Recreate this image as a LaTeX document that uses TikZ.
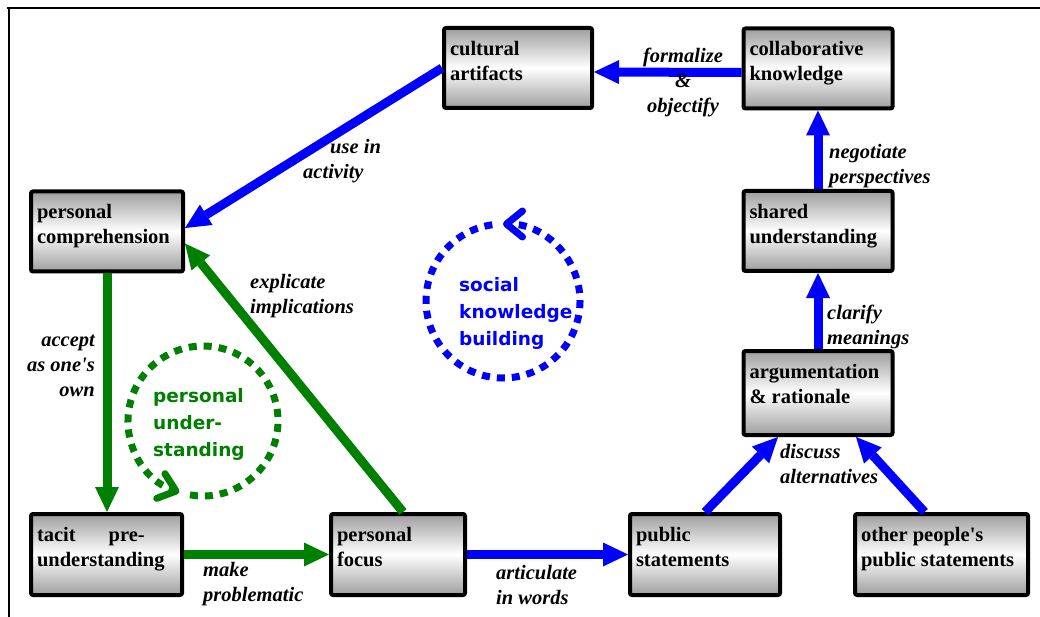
\documentclass[tikz,border=0pt]{standalone}
\usepackage{fontspec}
\setmainfont{Liberation Serif}
\newfontfamily\dvs{DejaVu Sans}
\usetikzlibrary{arrows.meta}
\definecolor{ablue}{RGB}{0,0,255}
\definecolor{agreen}{RGB}{0,128,0}
\newcommand\st{\rule[-7.5pt]{0pt}{25pt}}
\newcommand\bst{\rule[-7.5pt]{0pt}{26.5pt}}
\newcommand\sst{\rule[-8.1pt]{0pt}{27pt}}
\newcommand\bxt[3]{\parbox[c][#2][t]{#1}{\raggedright\bst #3}}
\tikzset{
  bx/.style={draw=black, line width=4pt, rounded corners=2pt,
    top color=black!38, bottom color=black!38, middle color=white,
    inner xsep=6pt, inner ysep=8.5pt, outer sep=2pt,
    font=\fontsize{20.5}{25}\selectfont\bfseries},
  lbl/.style={font=\fontsize{20.5}{25}\selectfont\bfseries\itshape, inner sep=0pt, anchor=north west, align=left},
  ctext/.style={font=\dvs\fontsize{18.5}{27}\selectfont\bfseries, inner sep=0pt, anchor=north west, align=left},
  barrow/.style={draw=ablue, line width=9pt, -{Triangle[length=25pt,width=24pt,line width=0pt]}},
  garrow/.style={draw=agreen, line width=9pt, -{Triangle[length=25pt,width=24pt,line width=0pt]}},
  dotcirc/.style={line width=7pt, dash pattern=on 8pt off 7pt, -{Straight Barb[length=16pt,width=26pt,round]}},
  frameline/.style={draw=black, line width=2.3pt}
}
\begin{document}
\begin{tikzpicture}[x=1pt,y=-1pt]
\useasboundingbox (0,0) rectangle (1040,617);
\draw[frameline] (7,7.8) -- (1040,7.8);
\draw[frameline] (8.7,7) -- (8.7,617);

% boxes
\node[bx] (cult)   at (518,68)    {\bxt{136pt}{63pt}{cultural\\artifacts}};
\node[bx] (collab) at (818,68.5)  {\bxt{137pt}{63pt}{collaborative\\knowledge}};
\node[bx] (pcomp)  at (107,231.5) {\bxt{140pt}{63pt}{personal\\comprehension}};
\node[bx] (shared) at (818,231)   {\bxt{137pt}{63pt}{shared\\understanding}};
\node[bx] (arg)    at (818,393)   {\bxt{137pt}{67pt}{argumentation\\\& rationale}};
\node[bx] (tacit)  at (106.5,554.5) {\bxt{139pt}{64pt}{tacit\hspace{33pt}pre-\\understanding}};
\node[bx] (pfocus) at (398,554.5) {\bxt{122pt}{64pt}{personal\\focus}};
\node[bx] (pub)    at (705,554.5) {\bxt{138pt}{64pt}{public\\statements}};
\node[bx] (other)  at (941.5,554.5) {\bxt{161pt}{64pt}{other people\textquotesingle s\\public statements}};

% connectors
\draw[barrow] ([yshift=-4pt]collab.west) -- ([yshift=-4pt]cult.east);
\draw[barrow] (cult.west) -- ([yshift=3.5pt]pcomp.east);
\draw[garrow] (pcomp.south) -- (pcomp.south |- tacit.north);
\draw[garrow] (tacit.east) -- (pfocus.west);
\draw[garrow] ([xshift=5pt]pfocus.north) -- ([yshift=-12pt]pcomp.east);
\draw[barrow] (pfocus.east) -- (pub.west);
\draw[barrow] (pub.north) -- ([xshift=-40pt]arg.south);
\draw[barrow] ([xshift=-17pt]other.north) -- ([xshift=38pt]arg.south);
\draw[barrow] (arg.north) -- (shared.south);
\draw[barrow] (shared.north) -- (collab.south);

% connector labels
\node[lbl, anchor=north, align=center] (l1) at (683,44.5) {\st formalize\\\st\&\\\st objectify};
\node[lbl] (l2) at (303,135.5) {\st\hspace*{27pt}use in\\\st activity};
\node[lbl, anchor=north east, align=right] (l3) at (95,328.5) {\st accept\\\st as one\textquotesingle s\\\st own};
\node[lbl] (l4) at (203,558.5) {\st make\\\st problematic};
\node[lbl] (l5) at (250,270.5) {\st explicate\\\st implications};
\node[lbl] (l6) at (496,561.5) {\st articulate\\\st in words};
\node[lbl] (l7) at (780,440.5) {\st discuss\\\st alternatives};
\node[lbl] (l8) at (827,301.5) {\st clarify\\\st meanings};
\node[lbl] (l9) at (829,140.5) {\st negotiate\\\st perspectives};

% cycles
\coordinate (gc) at (203,421);
\coordinate (bc) at (503,301);
\draw[dotcirc, draw=agreen] ([shift={(-100:75pt)}]gc) arc[start angle=-100, end angle=251.6, radius=75pt];
\draw[dotcirc, draw=ablue] ([shift={(98:77pt)}]bc) arc[start angle=-262, end angle=90, radius=77pt];
\node[ctext, text=agreen] (gt) at (153,383.1) {\sst personal\\\sst under-\\\sst standing};
\node[ctext, text=ablue] (bt) at (459,272.1) {\sst social\\\sst knowledge\\\sst building};
\end{tikzpicture}
\end{document}
